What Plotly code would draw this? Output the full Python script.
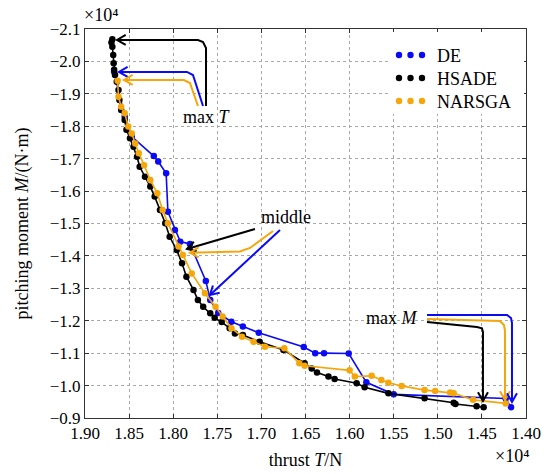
import math
import plotly.graph_objects as go

# Pareto fronts: thrust T and pitching moment M, both in units of 10^4
de_T = [1.867, 1.855, 1.847, 1.822, 1.817, 1.808, 1.806, 1.798, 1.792, 1.781,
        1.763, 1.758, 1.749, 1.734, 1.721, 1.703, 1.652, 1.639, 1.629, 1.601,
        1.581, 1.550, 1.423, 1.417]
de_M = [-1.968, -1.829, -1.768, -1.708, -1.691, -1.655, -1.536, -1.480, -1.444, -1.437,
        -1.323, -1.264, -1.224, -1.197, -1.182, -1.163, -1.119, -1.100, -1.100, -1.099,
        -1.010, -0.973, -0.960, -0.933]

hsade_T = [1.869, 1.870, 1.869, 1.868, 1.8675, 1.867, 1.866, 1.864, 1.862, 1.861,
           1.859, 1.855, 1.853, 1.849, 1.845, 1.841, 1.838, 1.832, 1.826, 1.821,
           1.815, 1.809, 1.804, 1.796, 1.790, 1.785, 1.777, 1.772, 1.766, 1.758,
           1.753, 1.745, 1.736, 1.730, 1.721, 1.702, 1.675, 1.651, 1.643, 1.637,
           1.624, 1.617, 1.592, 1.583, 1.556, 1.515, 1.482, 1.480, 1.456, 1.448]
hsade_M = [-2.068, -2.058, -2.045, -2.020, -1.994, -1.974, -1.958, -1.937, -1.912, -1.881,
           -1.850, -1.819, -1.789, -1.763, -1.737, -1.706, -1.675, -1.644, -1.614, -1.583,
           -1.542, -1.501, -1.459, -1.418, -1.377, -1.336, -1.295, -1.264, -1.243, -1.223,
           -1.209, -1.196, -1.177, -1.161, -1.156, -1.135, -1.110, -1.069, -1.053, -1.040,
           -1.028, -1.020, -1.007, -0.995, -0.976, -0.961, -0.947, -0.943, -0.936, -0.933]

narsga_T = [1.863, 1.862, 1.859, 1.855, 1.851, 1.847, 1.843, 1.839, 1.833, 1.826,
            1.818, 1.812, 1.806, 1.794, 1.789, 1.779, 1.764, 1.752, 1.744, 1.734,
            1.722, 1.709, 1.696, 1.674, 1.657, 1.651, 1.600, 1.594, 1.575, 1.564,
            1.556, 1.541, 1.515, 1.503, 1.486, 1.482, 1.460, 1.423]
narsga_M = [-1.940, -1.891, -1.860, -1.840, -1.799, -1.778, -1.747, -1.717, -1.680, -1.634,
            -1.593, -1.542, -1.501, -1.429, -1.403, -1.346, -1.285, -1.243, -1.213, -1.177,
            -1.151, -1.135, -1.120, -1.115, -1.069, -1.061, -1.047, -1.028, -1.030, -1.017,
            -1.009, -0.999, -0.986, -0.983, -0.979, -0.976, -0.956, -0.945]

series_names = ["DE", "HSADE", "NARSGA"]
series_colors = ["#0a0af5", "#000000", "#f4a60a"]

x_tickvals = [1.90, 1.85, 1.80, 1.75, 1.70, 1.65, 1.60, 1.55, 1.50, 1.45, 1.40]
x_ticktext = ["1.90", "1.85", "1.80", "1.75", "1.70", "1.65", "1.60", "1.55", "1.50", "1.45", "1.40"]
y_tickvals = [-2.1, -2.0, -1.9, -1.8, -1.7, -1.6, -1.5, -1.4, -1.3, -1.2, -1.1, -1.0, -0.9]
y_ticktext = ["\u22122.1", "\u22122.0", "\u22121.9", "\u22121.8", "\u22121.7", "\u22121.6",
              "\u22121.5", "\u22121.4", "\u22121.3", "\u22121.2", "\u22121.1", "\u22121.0", "\u22120.9"]

# callout routes (data units), last point is the arrow tip
arrow_routes = [
    ("#000000", [(1.7628, -1.8625), (1.7628, -2.0414), (1.7662, -2.0599), (1.7719, -2.0661), (1.8637, -2.0661)]),
    ("#0a0af5", [(1.7662, -1.8625), (1.7776, -1.9581), (1.7844, -1.9674), (1.8615, -1.9674)]),
    ("#f4a60a", [(1.7719, -1.8625), (1.7810, -1.9334), (1.7878, -1.9427), (1.8558, -1.9427)]),
    ("#000000", [(1.7073, -1.4831), (1.7844, -1.4214)]),
    ("#f4a60a", [(1.6868, -1.4769), (1.7129, -1.4245), (1.7243, -1.4137), (1.7810, -1.4100)]),
    ("#0a0af5", [(1.6789, -1.4800), (1.7583, -1.2795)]),
    ("#000000", [(1.5122, -1.1962), (1.4556, -1.1808), (1.4499, -1.1768), (1.4488, -1.1649), (1.4488, -0.9526)]),
    ("#f4a60a", [(1.5122, -1.2055), (1.4295, -1.1993), (1.4250, -1.1870), (1.4238, -1.1685), (1.4238, -0.9557)]),
    ("#0a0af5", [(1.5122, -1.2178), (1.4215, -1.2178), (1.4170, -1.2086), (1.4159, -1.1932), (1.4159, -0.9495)]),
]
callout_labels = [("max <i>T</i>", 1.7617, -1.8286), ("middle", 1.6721, -1.5201), ("max <i>M</i>", 1.5519, -1.2086)]

W, H = 552, 474
ML, MR, MT, MB = 85, 26, 29, 56
PW, PH = W - ML - MR, H - MT - MB
X0, X1 = 1.90, 1.40
Y0, Y1 = -2.1, -0.9


def to_px(t, m):
    return ML + (X0 - t) / (X0 - X1) * PW, MT + (m - Y0) / (Y1 - Y0) * PH


def to_data(px, py):
    return X0 - (px - ML) / PW * (X0 - X1), Y0 + (py - MT) / PH * (Y1 - Y0)


def xp(px):
    return (px - ML) / PW


def yp(py):
    return (MT + PH - py) / PH


FONT = "Liberation Serif"
TXT = dict(family=FONT, size=18, color="black")

fig = go.Figure()
for name, color, xs, ys in zip(series_names, series_colors,
                               [de_T, hsade_T, narsga_T], [de_M, hsade_M, narsga_M]):
    fig.add_trace(go.Scatter(x=xs, y=ys, mode="lines+markers", name=name,
                             line=dict(color=color, width=1.6),
                             marker=dict(color=color, size=6.5),
                             showlegend=False))

shapes = []
for color, route in arrow_routes:
    path = "M " + " L ".join(f"{x},{y}" for x, y in route)
    shapes.append(dict(type="path", path=path, xref="x", yref="y",
                       line=dict(color=color, width=2)))
    (ax, ay), (bx, by) = to_px(*route[-2]), to_px(*route[-1])
    ang = math.atan2(by - ay, bx - ax)
    L, spread = 10, math.radians(30)
    h1 = to_data(bx - L * math.cos(ang - spread), by - L * math.sin(ang - spread))
    h2 = to_data(bx - L * math.cos(ang + spread), by - L * math.sin(ang + spread))
    tip = route[-1]
    shapes.append(dict(type="path",
                       path=f"M {h1[0]},{h1[1]} L {tip[0]},{tip[1]} L {h2[0]},{h2[1]}",
                       xref="x", yref="y", line=dict(color=color, width=2)))

# legend box with three dots per entry
shapes.append(dict(type="rect", xref="paper", yref="paper",
                   x0=xp(388), x1=xp(524), y0=yp(114), y1=yp(32),
                   fillcolor="white", line=dict(width=0), layer="above"))
legend_rows = [55, 78, 101]
dot_x = [399, 410.5, 422]
r = 3.2
annotations = []
for name, color, ry in zip(series_names, series_colors, legend_rows):
    for dx in dot_x:
        shapes.append(dict(type="circle", xref="paper", yref="paper",
                           x0=xp(dx - r), x1=xp(dx + r), y0=yp(ry + r), y1=yp(ry - r),
                           fillcolor=color, line=dict(width=0), layer="above"))
    annotations.append(dict(text=name, xref="paper", yref="paper", x=xp(435), y=yp(ry + 1),
                            xanchor="left", yanchor="middle", showarrow=False, font=TXT))

for text, x, y in callout_labels:
    annotations.append(dict(text=text, x=x, y=y, xref="x", yref="y", showarrow=False,
                            xanchor="center", yanchor="middle", font=TXT))

annotations += [
    dict(text="\u00d710\u2074", xref="paper", yref="paper", x=xp(82), y=yp(15),
         xanchor="left", yanchor="middle", showarrow=False, font=TXT),
    dict(text="\u00d710\u2074", xref="paper", yref="paper", x=xp(531), y=yp(456),
         xanchor="right", yanchor="middle", showarrow=False, font=TXT),
]

axis_common = dict(showgrid=True, gridcolor="#a8a8a8", griddash="dot", gridwidth=1,
                   showline=True, linecolor="#333333", linewidth=1, mirror="ticks",
                   ticks="inside", ticklen=4, tickcolor="#333333", zeroline=False,
                   automargin=False,
                   tickfont=dict(family=FONT, size=17, color="black"))

fig.update_layout(
    width=W, height=H,
    margin=dict(l=ML, r=MR, t=MT, b=MB),
    paper_bgcolor="white", plot_bgcolor="white",
    font=dict(family=FONT, size=18, color="black"),
    xaxis=dict(range=[X0, X1], tickmode="array", tickvals=x_tickvals, ticktext=x_ticktext,
               title=dict(text="thrust <i>T</i>/N", font=TXT, standoff=10),
               **axis_common),
    yaxis=dict(range=[Y1, Y0], tickmode="array", tickvals=y_tickvals, ticktext=y_ticktext,
               title=dict(text="pitching moment <i>M</i>/(N\u00b7m)", font=TXT, standoff=16),
               **axis_common),
    shapes=shapes, annotations=annotations, showlegend=False,
)

fig.write_html("out.html")
